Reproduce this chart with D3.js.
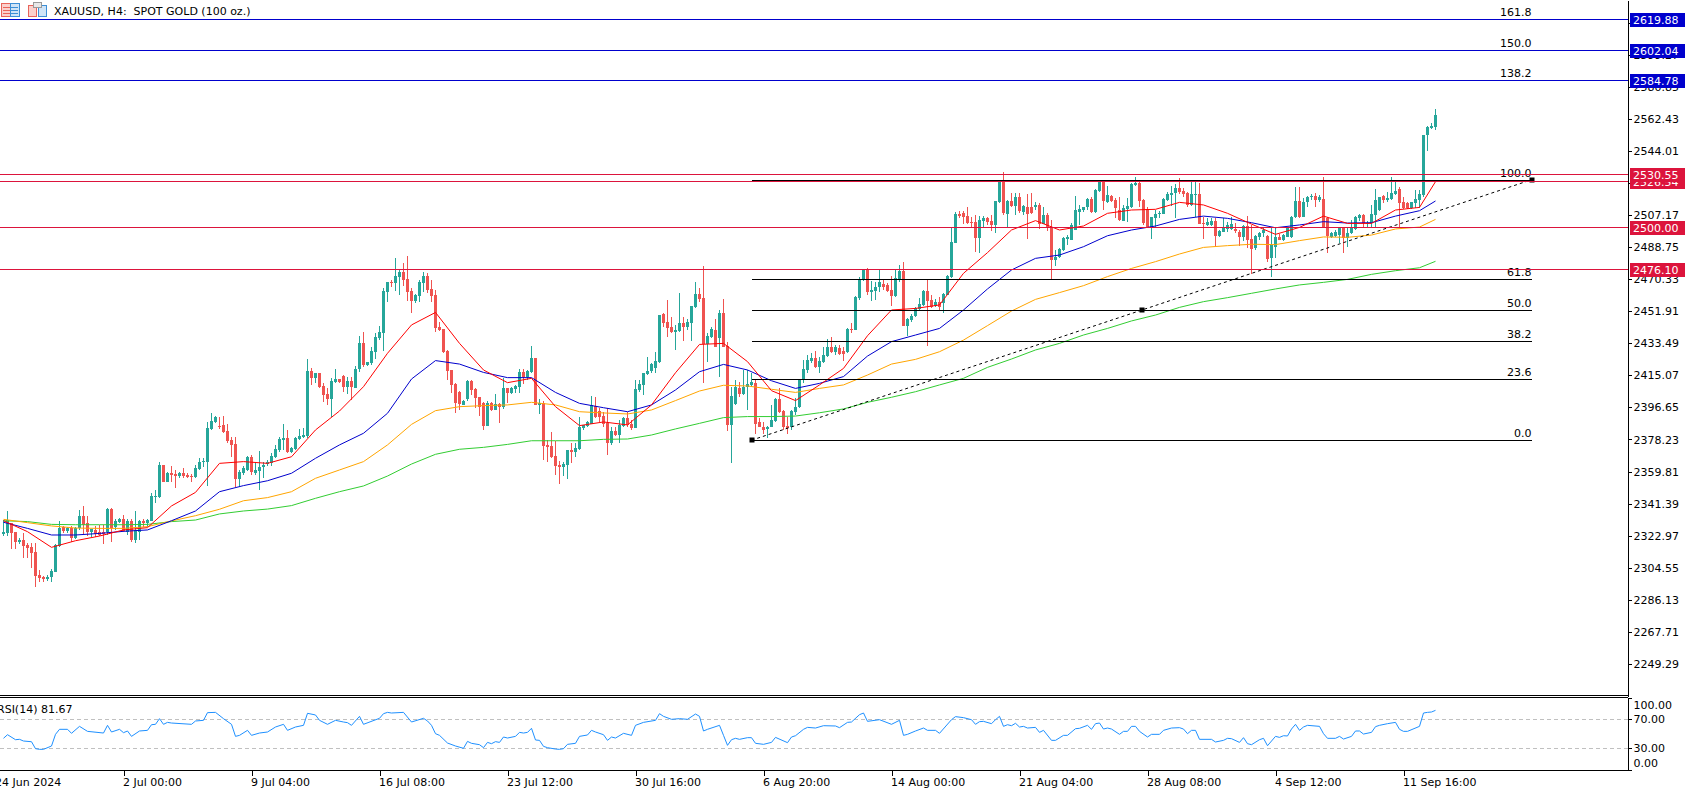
<!DOCTYPE html>
<html>
<head>
<meta charset="utf-8">
<style>
  html, body { margin: 0; padding: 0; background: #fff; overflow: hidden; }
  text { font-family: "DejaVu Sans", sans-serif; font-size: 11px; fill: #000; white-space: pre; }
</style>
</head>
<body>
<svg width="1685" height="791"></svg>
<script src="https://cdn.jsdelivr.net/npm/d3@7/dist/d3.min.js"></script>
<script>
// candles, bar 0 .. 358 (H4)
var opens = [2323.9,2324.6,2330.4,2325.0,2319.3,2320.4,2317.5,2316.6,2313.7,2300.3,2299.3,2298.0,2299.0,2302.2,2316.9,2327.7,2325.4,2327.5,2321.4,2327.1,
2334.4,2330.0,2325.0,2326.2,2325.0,2325.0,2325.2,2338.2,2327.7,2330.8,2332.5,2325.2,2331.4,2320.4,2325.2,2331.4,2330.0,2331.4,2345.3,2345.0,
2363.6,2353.9,2358.9,2358.4,2357.2,2358.9,2357.8,2357.2,2356.6,2361.4,2365.1,2365.5,2384.3,2388.5,2386.2,2386.6,2383.1,2377.9,2375.6,2355.5,
2358.8,2360.7,2368.0,2358.8,2360.3,2362.2,2364.1,2364.9,2368.2,2372.2,2377.9,2378.9,2371.2,2372.8,2378.3,2379.8,2380.2,2417.6,2413.6,2416.3,
2409.0,2404.4,2401.5,2411.5,2412.8,2414.9,2408.4,2411.7,2407.8,2418.8,2433.7,2421.2,2422.4,2428.7,2436.8,2439.7,2463.2,2468.8,2468.4,2471.9,
2474.5,2470.5,2463.6,2457.9,2460.9,2468.0,2472.2,2464.8,2461.3,2442.7,2441.6,2429.3,2418.2,2410.1,2405.7,2398.1,2401.5,2412.0,2407.2,2402.5,
2399.0,2386.0,2399.0,2395.2,2398.6,2397.1,2407.6,2404.8,2407.1,2408.6,2417.0,2414.0,2417.0,2425.1,2398.2,2399.0,2375.1,2374.5,2368.7,2363.6,
2362.4,2363.6,2372.4,2370.8,2372.8,2384.8,2386.2,2387.1,2397.7,2394.6,2391.7,2387.5,2376.4,2383.1,2380.6,2386.2,2390.6,2387.0,2385.0,2406.7,
2409.6,2415.9,2417.4,2419.3,2422.8,2450.4,2445.6,2442.7,2440.0,2440.4,2445.0,2442.7,2445.4,2454.2,2461.9,2459.6,2433.1,2437.4,2441.2,2436.4,
2450.8,2432.0,2386.7,2398.6,2408.0,2404.4,2408.6,2409.4,2410.9,2388.5,2385.6,2384.1,2385.6,2388.9,2401.5,2394.6,2386.0,2385.2,2393.8,2396.7,
2412.4,2418.2,2423.2,2425.1,2420.1,2423.0,2426.2,2431.6,2428.5,2430.6,2429.1,2428.7,2441.8,2441.2,2459.4,2470.0,2476.1,2463.2,2463.6,2465.7,
2467.4,2467.1,2464.0,2460.9,2470.3,2475.1,2443.7,2446.9,2449.2,2453.3,2455.6,2463.6,2458.4,2455.0,2457.5,2456.5,2461.3,2471.9,2491.4,2508.1,
2508.5,2506.9,2503.5,2503.5,2494.3,2504.1,2505.4,2504.1,2501.6,2515.0,2526.5,2507.9,2515.2,2512.5,2517.7,2509.2,2512.1,2512.1,2511.7,2513.1,
2502.1,2507.3,2500.0,2481.5,2483.0,2487.2,2493.3,2492.9,2498.7,2509.2,2510.2,2511.7,2516.4,2509.2,2520.9,2526.5,2515.0,2518.2,2516.0,2510.2,
2504.1,2510.6,2511.7,2524.4,2525.9,2516.0,2510.6,2500.2,2505.6,2507.7,2508.1,2516.0,2519.0,2519.8,2522.9,2520.9,2520.2,2513.1,2519.0,2519.2,
2502.9,2501.8,2501.6,2503.9,2495.2,2497.7,2499.3,2499.1,2499.1,2497.7,2494.5,2501.0,2493.3,2488.2,2494.9,2496.8,2495.4,2482.4,2489.1,2494.5,
2493.0,2494.5,2494.5,2506.4,2515.6,2506.4,2514.6,2517.5,2518.4,2516.0,2516.5,2505.4,2494.9,2495.2,2495.8,2499.6,2493.9,2496.8,2499.1,2505.4,
2507.1,2502.1,2502.5,2507.3,2510.2,2518.2,2516.0,2516.3,2519.2,2522.1,2515.0,2514.0,2511.2,2514.4,2516.0,2518.8,2553.3,2557.6,2558.1];
var highs = [2331.9,2337.1,2330.4,2325.0,2321.4,2324.2,2318.5,2318.5,2318.5,2303.2,2299.7,2300.1,2303.9,2318.1,2331.4,2328.5,2328.1,2328.5,2328.1,2337.7,
2340.0,2334.2,2326.7,2328.7,2329.0,2329.0,2338.6,2338.6,2332.3,2333.3,2334.8,2332.3,2332.3,2337.1,2331.9,2332.3,2332.5,2347.3,2349.2,2365.1,
2363.6,2359.7,2363.0,2360.7,2359.7,2361.6,2358.8,2358.2,2363.6,2367.4,2367.8,2388.5,2393.3,2391.9,2391.4,2391.7,2386.9,2379.5,2379.5,2360.7,
2363.0,2368.7,2369.3,2365.5,2371.8,2365.5,2366.4,2370.3,2375.1,2379.5,2386.9,2383.7,2374.1,2379.8,2384.1,2385.0,2424.3,2419.1,2416.3,2416.3,
2410.5,2407.6,2413.4,2418.6,2413.0,2415.3,2414.4,2414.4,2420.5,2437.7,2440.0,2423.0,2431.6,2439.7,2443.5,2465.1,2469.0,2469.9,2482.4,2475.7,
2479.5,2483.7,2465.1,2461.9,2469.9,2474.7,2474.2,2469.9,2464.2,2445.6,2441.6,2429.7,2418.2,2410.5,2406.3,2400.9,2412.4,2412.4,2407.6,2402.9,
2400.0,2400.4,2400.0,2404.4,2399.0,2413.4,2408.0,2408.6,2409.6,2418.8,2418.8,2418.2,2432.0,2425.1,2401.3,2400.6,2377.9,2382.7,2377.5,2366.0,
2365.5,2372.2,2376.0,2376.0,2391.0,2386.6,2389.0,2403.2,2402.5,2396.1,2394.2,2396.1,2385.6,2385.6,2389.4,2391.4,2394.2,2389.4,2412.4,2412.4,
2416.6,2425.5,2422.0,2428.7,2450.0,2450.8,2458.4,2448.9,2444.1,2462.3,2448.5,2447.3,2455.0,2469.0,2465.2,2478.0,2439.3,2442.7,2447.3,2452.7,
2459.0,2434.5,2408.6,2412.4,2411.5,2418.2,2418.2,2416.3,2412.4,2390.4,2388.5,2386.0,2398.1,2401.9,2407.6,2395.2,2391.4,2395.2,2401.9,2413.0,
2423.9,2426.8,2427.8,2429.1,2425.9,2431.6,2435.8,2437.4,2432.6,2432.6,2431.6,2442.5,2445.0,2460.9,2471.9,2476.1,2476.6,2469.4,2469.0,2475.7,
2470.3,2468.0,2472.2,2475.7,2478.6,2480.1,2447.9,2450.2,2454.6,2459.4,2464.2,2470.0,2461.3,2458.8,2460.4,2462.3,2472.8,2500.0,2509.2,2509.6,
2509.8,2512.1,2506.4,2507.3,2506.7,2506.9,2506.4,2507.3,2515.4,2527.1,2531.9,2516.0,2519.8,2520.2,2520.2,2513.1,2519.4,2520.2,2515.0,2514.0,
2511.7,2508.7,2504.5,2487.2,2488.2,2494.5,2495.8,2502.5,2518.2,2513.1,2512.1,2517.3,2517.5,2522.1,2526.5,2526.5,2524.0,2518.8,2517.3,2517.9,
2513.1,2516.9,2525.9,2529.0,2526.5,2516.5,2512.1,2506.4,2510.2,2509.6,2516.9,2520.7,2524.0,2525.0,2528.4,2523.0,2520.7,2526.1,2526.5,2525.5,
2506.4,2505.4,2505.4,2505.4,2498.7,2505.4,2503.5,2506.4,2502.5,2498.7,2501.6,2506.9,2501.6,2495.8,2497.7,2499.6,2495.8,2499.6,2500.2,2496.4,
2496.4,2500.6,2506.9,2523.2,2523.6,2517.3,2518.3,2519.2,2520.2,2518.8,2529.0,2506.4,2497.7,2498.7,2500.2,2500.0,2499.6,2504.5,2506.7,2507.9,
2507.7,2504.1,2513.1,2522.1,2517.9,2518.8,2520.4,2529.0,2526.5,2523.2,2517.9,2515.0,2515.0,2521.7,2521.7,2553.3,2558.7,2560.0,2568.3];
var lows = [2322.7,2322.7,2315.2,2315.2,2318.1,2310.1,2309.9,2304.1,2293.6,2296.5,2296.5,2297.0,2296.3,2302.2,2316.6,2324.2,2324.2,2319.1,2320.8,2326.2,
2323.9,2322.7,2322.3,2322.3,2322.7,2318.1,2323.3,2319.5,2326.2,2330.0,2325.2,2323.3,2319.5,2318.9,2320.4,2328.1,2328.1,2331.4,2341.9,2344.8,
2353.6,2353.6,2353.9,2350.5,2355.9,2355.9,2355.9,2353.9,2355.9,2360.7,2362.2,2351.7,2383.7,2387.5,2384.3,2381.8,2376.4,2368.0,2351.1,2351.1,
2357.8,2360.3,2357.8,2357.8,2349.2,2355.9,2363.0,2363.0,2367.4,2371.2,2372.2,2370.3,2370.3,2372.2,2377.9,2378.9,2378.9,2409.6,2410.9,2407.6,
2400.0,2398.1,2391.0,2410.9,2410.5,2405.5,2404.4,2400.9,2407.6,2417.2,2420.1,2420.5,2421.1,2424.3,2435.4,2429.3,2457.5,2466.1,2463.8,2461.3,
2466.5,2457.9,2451.2,2456.9,2457.5,2463.2,2462.3,2457.5,2440.2,2440.6,2427.8,2412.4,2404.8,2393.6,2395.2,2398.1,2400.6,2403.8,2396.5,2391.7,
2383.7,2386.0,2394.6,2395.2,2387.5,2395.8,2399.4,2404.4,2404.8,2404.8,2410.1,2412.4,2416.6,2398.2,2392.9,2366.4,2365.5,2367.4,2357.8,2352.6,
2357.2,2355.7,2364.5,2368.3,2372.2,2383.7,2385.6,2387.1,2390.4,2388.5,2385.6,2369.3,2375.0,2380.2,2376.4,2385.6,2385.6,2383.7,2384.6,2405.7,
2403.8,2415.3,2416.3,2416.3,2422.4,2443.1,2437.0,2439.3,2429.7,2440.2,2434.9,2441.2,2434.9,2453.6,2457.5,2410.9,2423.0,2436.4,2431.2,2414.0,
2431.6,2383.1,2364.5,2398.1,2402.9,2403.8,2395.2,2408.6,2381.4,2385.6,2381.4,2378.9,2385.6,2388.5,2393.6,2383.7,2381.2,2383.7,2392.3,2396.1,
2410.9,2416.3,2422.4,2419.1,2416.6,2422.0,2425.5,2428.1,2426.8,2426.8,2423.5,2428.1,2439.3,2441.2,2458.4,2469.6,2461.1,2458.1,2458.4,2463.2,
2464.2,2462.8,2455.0,2460.4,2469.0,2443.7,2437.7,2446.0,2448.9,2452.7,2455.0,2432.2,2453.6,2454.6,2452.7,2450.8,2461.3,2471.3,2491.4,2505.4,
2502.1,2502.1,2500.2,2486.2,2485.7,2499.6,2501.6,2498.3,2497.2,2514.4,2507.3,2500.6,2512.1,2507.3,2508.7,2507.3,2493.5,2507.9,2510.2,2499.3,
2502.1,2498.1,2470.3,2478.0,2482.4,2486.8,2490.1,2492.9,2498.7,2501.6,2509.2,2510.2,2508.7,2508.7,2520.6,2510.2,2514.0,2515.0,2505.4,2503.9,
2504.1,2503.5,2511.3,2524.0,2512.1,2501.6,2500.2,2493.7,2500.2,2505.4,2507.7,2515.6,2512.5,2505.4,2519.4,2517.9,2512.1,2512.5,2506.4,2502.1,
2493.7,2501.0,2501.0,2489.5,2494.5,2497.4,2497.4,2498.7,2496.8,2489.5,2492.6,2488.1,2473.4,2487.2,2493.0,2494.5,2480.5,2471.9,2482.4,2493.0,
2492.6,2494.5,2493.9,2505.4,2505.4,2506.0,2511.7,2516.0,2511.7,2515.0,2499.6,2485.3,2493.9,2494.9,2491.0,2485.7,2489.1,2496.4,2498.7,2504.1,
2500.2,2500.2,2500.2,2500.6,2509.8,2514.0,2515.0,2516.0,2518.8,2500.2,2510.6,2510.6,2510.6,2511.2,2511.2,2517.9,2544.3,2556.6,2556.2];
var closes = [2325.2,2331.9,2324.6,2319.4,2320.4,2316.9,2315.8,2313.1,2299.7,2298.4,2298.0,2299.3,2302.8,2317.5,2327.5,2325.6,2327.5,2321.4,2327.1,2334.4,
2329.0,2324.8,2326.7,2323.9,2323.3,2323.9,2338.2,2327.5,2331.5,2332.5,2325.8,2331.4,2320.2,2326.2,2331.4,2330.0,2331.9,2345.9,2345.7,2363.6,
2353.6,2359.1,2357.8,2357.4,2358.9,2357.4,2356.6,2356.6,2361.8,2365.3,2365.8,2384.6,2388.7,2391.2,2385.6,2382.7,2377.5,2375.0,2355.5,2359.7,
2362.0,2368.0,2359.7,2360.7,2362.6,2363.7,2365.3,2368.7,2372.8,2378.3,2379.1,2371.2,2373.1,2379.1,2380.2,2380.8,2417.6,2413.6,2416.3,2408.6,
2403.8,2401.5,2411.7,2413.0,2411.1,2408.6,2412.0,2408.2,2418.8,2433.7,2421.2,2422.8,2429.1,2437.2,2440.0,2463.8,2468.8,2468.4,2472.2,2474.5,
2469.9,2463.2,2458.1,2461.3,2468.6,2472.2,2464.2,2460.9,2442.5,2441.2,2428.7,2417.8,2409.6,2399.4,2398.6,2400.6,2412.0,2406.7,2402.3,2397.1,
2386.0,2399.4,2395.2,2398.4,2397.1,2407.6,2404.8,2408.0,2409.0,2417.0,2414.0,2417.8,2425.1,2398.2,2399.4,2374.7,2373.7,2368.0,2363.0,2362.4,
2364.1,2372.2,2371.2,2373.3,2385.6,2386.6,2388.5,2398.1,2391.4,2391.4,2386.9,2376.4,2383.1,2380.8,2386.6,2390.4,2386.6,2385.0,2407.3,2410.1,
2416.3,2417.4,2421.6,2423.4,2450.0,2445.0,2442.1,2440.0,2441.2,2445.0,2443.1,2446.0,2455.0,2461.9,2458.8,2433.1,2437.7,2442.0,2431.6,2450.8,
2431.6,2386.7,2403.2,2408.2,2404.4,2408.6,2410.1,2411.5,2387.1,2385.6,2383.7,2385.6,2389.4,2401.5,2394.2,2385.6,2384.6,2394.6,2397.1,2413.0,
2418.8,2423.9,2425.1,2420.1,2423.4,2426.6,2431.6,2428.7,2431.2,2427.4,2427.4,2441.8,2441.0,2460.4,2470.3,2476.1,2463.2,2464.2,2465.7,2469.0,
2466.1,2463.6,2460.9,2470.9,2475.3,2443.7,2447.5,2449.4,2453.6,2456.1,2463.6,2458.1,2454.6,2457.5,2454.6,2461.9,2472.2,2491.6,2507.9,2506.9,
2506.0,2502.5,2502.9,2494.3,2504.5,2505.8,2503.5,2501.6,2515.4,2526.5,2508.3,2515.4,2512.7,2517.7,2509.6,2512.5,2508.1,2508.3,2513.1,2502.1,
2507.3,2499.6,2481.5,2483.4,2487.8,2493.9,2494.5,2501.6,2510.2,2510.6,2512.1,2516.4,2509.2,2521.7,2526.5,2515.4,2518.8,2515.4,2511.5,2504.3,
2511.3,2512.5,2525.1,2525.9,2515.4,2502.5,2500.2,2506.0,2507.9,2508.7,2516.4,2519.2,2520.2,2522.9,2520.6,2519.2,2513.1,2519.2,2519.4,2502.1,
2502.1,2503.5,2503.9,2495.2,2498.1,2499.8,2501.6,2502.1,2498.1,2494.5,2501.0,2492.9,2487.8,2495.2,2497.2,2498.7,2482.0,2490.1,2494.5,2493.0,
2495.8,2500.0,2506.4,2515.6,2506.4,2515.0,2517.9,2518.4,2516.0,2517.9,2500.2,2495.4,2497.2,2497.7,2499.6,2493.9,2497.2,2499.6,2506.4,2507.1,
2502.5,2502.9,2507.9,2516.0,2517.9,2516.0,2516.9,2519.8,2521.3,2514.4,2511.2,2511.2,2515.0,2516.3,2519.4,2553.3,2557.7,2558.5,2564.8];

// moving averages, read every 6 bars plus the last bar
var maBars = [0,6,12,18,24,30,36,42,48,54,60,66,72,78,84,90,96,102,108,114,120,126,132,138,144,150,156,162,168,174,180,186,192,198,
204,210,216,222,228,234,240,246,252,258,264,270,276,282,288,294,300,306,312,318,324,330,336,342,348,354,358];
var maRed = [2331.5,2325.2,2316.2,2320.0,2322.7,2326.2,2327.5,2340.0,2347.8,2364.5,2365.5,2364.5,2368.3,2383.7,2394.6,2408.6,2427.8,2444.1,2451.3,2433.5,
2418.2,2410.9,2413.4,2397.1,2386.2,2388.3,2386.6,2398.1,2416.6,2432.9,2433.5,2423.0,2406.3,2400.6,
2409.6,2419.1,2437.9,2452.7,2453.6,2455.6,2473.8,2485.7,2498.7,2504.1,2498.7,2501.0,2508.3,2510.2,2510.6,2514.6,2513.1,2508.3,2502.1,2496.2,2500.2,2506.7,2502.5,2502.5,2510.2,2511.7,2526.5];
var maBlue = [2330.6,2327.1,2323.3,2323.3,2324.2,2325.4,2326.2,2331.5,2337.1,2348.2,2351.7,2354.5,2358.8,2367.4,2375.1,2381.8,2393.3,2413.0,2423.6,2421.6,
2416.8,2413.8,2413.8,2405.3,2399.0,2396.5,2394.2,2398.1,2406.7,2417.2,2421.4,2418.2,2412.0,2407.6,
2410.5,2414.4,2426.2,2434.5,2438.3,2442.1,2452.7,2464.8,2475.7,2482.4,2484.3,2489.1,2495.4,2498.7,2501.0,2504.8,2506.7,2505.4,2502.9,2500.0,2501.6,2503.5,2502.7,2502.9,2506.7,2509.8,2515.4];
var maOrange = [2332.3,2330.4,2328.5,2327.3,2327.1,2327.1,2328.1,2331.4,2334.4,2338.1,2343.0,2344.8,2348.2,2355.9,2360.7,2365.5,2375.1,2386.9,2394.8,2397.1,
2397.7,2398.1,2399.6,2398.1,2394.2,2393.5,2392.9,2395.2,2400.6,2406.1,2409.4,2409.0,2407.1,2405.3,
2407.6,2409.6,2415.3,2421.6,2424.3,2428.7,2435.4,2443.7,2452.1,2458.8,2462.7,2466.7,2471.9,2476.6,2480.5,2484.9,2488.7,2489.7,2490.5,2490.3,2492.6,2494.7,2494.5,2495.8,2499.3,2500.4,2504.8];
var maGreen = [2331.5,2331.0,2329.4,2329.2,2329.2,2329.2,2329.4,2331.0,2331.9,2335.4,2337.1,2338.2,2340.2,2344.4,2348.2,2351.5,2357.2,2364.1,2369.7,2372.6,
2373.7,2375.4,2377.5,2377.5,2377.5,2378.3,2378.5,2380.8,2384.3,2387.5,2390.8,2391.4,2391.4,2391.7,
2393.6,2395.8,2399.6,2402.5,2405.7,2409.6,2413.4,2419.7,2424.5,2429.7,2433.5,2438.3,2442.1,2446.4,2449.8,2454.2,2457.5,2459.8,2462.3,2464.8,2467.1,2468.6,2470.3,2473.2,2475.3,2477.0,2480.7];

// RSI(14) turning points
var rsiBars = [0,1,3,4,5,7,8,9,10,12,13,14,16,17,19,21,25,26,27,29,30,31,32,34,36,37,38,39,40,41,42,47,48,50,51,53,55,57,58,59,61,62,64,66,68,70,71,73,75,76,78,79,81,83,85,86,87,89,90,94,95,96,97,100,102,105,106,107,108,109,111,113,115,116,117,119,120,121,122,123,124,125,126,128,129,130,131,132,133,134,135,136,138,139,140,141,143,144,146,147,148,150,151,152,153,155,157,158,160,163,164,165,167,169,171,173,174,175,176,179,180,181,182,183,184,186,187,188,190,192,193,196,197,198,200,201,203,205,208,209,211,212,214,215,216,219,222,224,225,226,228,230,231,233,234,237,238,240,242,243,244,245,247,248,249,250,251,252,253,254,255,256,258,259,260,262,263,265,266,268,269,271,272,273,274,275,276,277,279,280,281,282,283,284,286,287,289,290,292,294,295,296,297,298,299,302,303,305,306,307,309,310,311,312,314,315,316,318,319,320,321,322,323,324,325,326,329,330,331,333,334,335,337,338,339,340,342,343,344,346,348,349,350,351,354,355,356,357,358];
var rsiValues = [43.7,48.7,41.8,42.3,40,39,29.4,28.5,28.5,33.1,49.2,56.1,56.1,50.6,60.2,53.3,51,61.6,52.4,56.1,51.5,53.8,46.4,53.8,54.7,62.5,63,70.8,63,65.7,64.8,63,67.6,68.5,79.1,79.5,70.8,63,46.4,47.8,54.7,47.8,51,52.4,59.3,63,54.7,59.3,61.6,78.2,75.9,68.5,63,68.5,66.2,65.3,61.6,74,63,71.3,77.7,79.5,78.6,79.5,66.2,71.3,67.6,61.6,50.1,47.8,37.2,33.1,29.9,39.5,36.8,34.9,30.8,38.1,36.3,39.1,38.1,45.5,44.1,46.4,51.9,51,51.9,57.5,41.4,40.9,32.6,30.8,28.9,28.5,29.4,35.4,36.8,46.4,48.3,54.7,52.4,48.7,40.9,45.5,44.1,50.6,47.8,61.6,65.7,68.5,77.7,74,69.9,70.8,69.9,77.2,74,53.8,56.1,61.6,47.8,34,41.8,43.7,42.3,44.6,44.6,36.8,35.4,38.1,45,37.7,45.5,47.3,56.1,58.8,57.9,61.1,60.7,58.4,65.7,66.2,76.3,78.6,67.1,69.4,63,68.5,47.8,49.2,53.8,57.9,54.7,54.7,50.6,69.4,73.6,72.2,69.4,63,66.7,67.1,63.9,69.4,74,60.2,62.5,61.1,64.4,59.3,60.2,57.9,58.8,51.9,54.7,40.9,40.9,47.8,47.8,57,57.5,61.6,56.1,63.9,64.8,56.5,57.9,56.5,49.2,53.3,53.3,60.2,60.2,53.3,45.5,49.2,49.2,54.7,57.9,58.4,56.5,50.1,54.7,54.7,42.3,42.3,38.6,40.9,43.7,43.2,38.1,44.6,36.3,34.9,41.8,43.7,33.5,46.4,45,47.3,46.9,56.5,63,54.7,59.3,61.6,60.2,50.1,43.7,43.7,46.4,42.7,46.4,53.8,53.8,49.6,51.9,59.8,61.6,63.9,65.7,56.1,53.3,53.3,60.2,78.6,79.5,80,82.3];

// axes
var priceDomain = [2630.98, 2230.7];
var priceTicks = [2617.69,2599.27,2580.85,2562.43,2544.01,2525.59,2507.17,2488.75,2470.33,2451.91,2433.49,2415.07,2396.65,2378.23,2359.81,2341.39,2322.97,2304.55,2286.13,2267.71,2249.29];
var rsiTicks = [100, 70, 30, 0];
var timeBars = [-2,30,62,94,126,158,190,222,254,286,318,350];
var timeLabels = ["24 Jun 2024","2 Jul 00:00","9 Jul 04:00","16 Jul 08:00","23 Jul 12:00","30 Jul 16:00","6 Aug 20:00","14 Aug 00:00","21 Aug 04:00","28 Aug 08:00","4 Sep 12:00","11 Sep 16:00"];

// levels
var blueLevels = [2619.88, 2602.04, 2584.78];
var redLevels = [2526.54, 2476.10, 2500.00, 2530.55];
var fibPrices = [2377.8, 2412.8, 2434.7, 2452.6, 2470.4, 2527.4];
var fibNames = ["0.0", "23.6", "38.2", "50.0", "61.8", "100.0"];
var upperFibPrices = [2584.78, 2602.04, 2619.88];
var upperFibNames = ["138.2", "150.0", "161.8"];
var fibBars = [187, 382];
var trendBars = [187, 284.5, 382];
var trendPrices = [2377.8, 2452.6, 2527.6];

function main() {
    var svg = d3.select("svg");
    var axisX = 1627.5;
    var candleUp = "#26a69a", candleDown = "#ef5350";

    var x = d3.scaleLinear().domain([0, 100]).range([3.5, 403.5]);
    var y = d3.scaleLinear().domain(priceDomain).range([0, 696]);
    var yRsi = d3.scaleLinear().domain([0, 100]).range([770, 697.5]);

    // snap so 1px lines stay sharp like the terminal draws them
    function snap(v) { return Math.floor(v) + 0.5; }

    var bars = d3.range(opens.length);

    // candles
    var candles = svg.append("g").attr("shape-rendering", "crispEdges");
    candles.selectAll("line").data(bars).enter().append("line")
        .attr("x1", function(i) { return x(i); })
        .attr("x2", function(i) { return x(i); })
        .attr("y1", function(i) { return y(highs[i]); })
        .attr("y2", function(i) { return y(lows[i]); })
        .attr("stroke", function(i) { return closes[i] >= opens[i] ? candleUp : candleDown; });
    candles.selectAll("rect").data(bars).enter().append("rect")
        .attr("x", function(i) { return x(i) - 1.5; })
        .attr("width", 3)
        .attr("y", function(i) { return y(Math.max(opens[i], closes[i])); })
        .attr("height", function(i) { return Math.max(1, Math.abs(y(opens[i]) - y(closes[i]))); })
        .attr("fill", function(i) { return closes[i] >= opens[i] ? candleUp : candleDown; });

    // moving averages
    var maLine = d3.line().x(function(d) { return x(d[0]); }).y(function(d) { return y(d[1]); });
    var maSeries = [[maGreen, "#32cd32"], [maOrange, "#ffa500"], [maBlue, "#0000cd"], [maRed, "#ff0000"]];
    maSeries.forEach(function(s) {
        svg.append("path")
            .datum(d3.zip(maBars, s[0]))
            .attr("d", maLine)
            .attr("fill", "none")
            .attr("stroke", s[1])
            .attr("stroke-width", 1);
    });

    // trend line with its anchors
    var trend = d3.zip(trendBars, trendPrices);
    svg.append("path").datum(trend)
        .attr("d", maLine)
        .attr("fill", "none")
        .attr("stroke", "#000")
        .attr("stroke-dasharray", "3,3");
    svg.selectAll(".anchor").data(trend).enter().append("rect")
        .attr("class", "anchor")
        .attr("x", function(d) { return Math.round(x(d[0])) - 2.5; })
        .attr("y", function(d) { return Math.round(y(d[1])) - 2.5; })
        .attr("width", 5).attr("height", 5)
        .attr("fill", "#000");

    // fibonacci lines
    var fibs = svg.append("g");
    fibs.selectAll("line").data(fibPrices).enter().append("line")
        .attr("x1", x(fibBars[0])).attr("x2", x(fibBars[1]))
        .attr("y1", function(d) { return snap(y(d)); })
        .attr("y2", function(d) { return snap(y(d)); })
        .attr("stroke", "#000")
        .attr("shape-rendering", "crispEdges");
    fibs.selectAll("text.low").data(fibPrices).enter().append("text")
        .attr("class", "low")
        .attr("x", x(fibBars[1])).attr("y", function(d) { return y(d) - 3; })
        .attr("text-anchor", "end")
        .text(function(d, i) { return fibNames[i]; });
    fibs.selectAll("text.up").data(upperFibPrices).enter().append("text")
        .attr("class", "up")
        .attr("x", x(fibBars[1])).attr("y", function(d) { return y(d) - 3; })
        .attr("text-anchor", "end")
        .text(function(d, i) { return upperFibNames[i]; });

    // horizontal levels
    function levels(list, color) {
        svg.append("g").selectAll("line").data(list).enter().append("line")
            .attr("x1", 0).attr("x2", axisX)
            .attr("y1", function(d) { return snap(y(d)); })
            .attr("y2", function(d) { return snap(y(d)); })
            .attr("stroke", color)
            .attr("shape-rendering", "crispEdges");
    }
    levels(redLevels, "#dc143c");
    levels(blueLevels, "#0000cd");

    // RSI pane
    svg.append("g").selectAll("line").data([70, 30]).enter().append("line")
        .attr("x1", 0).attr("x2", axisX)
        .attr("y1", function(d) { return snap(yRsi(d)); })
        .attr("y2", function(d) { return snap(yRsi(d)); })
        .attr("stroke", "#c0c0c0")
        .attr("stroke-dasharray", "4,3")
        .attr("shape-rendering", "crispEdges");
    svg.append("path")
        .datum(d3.zip(rsiBars, rsiValues))
        .attr("d", d3.line().x(function(d) { return x(d[0]); }).y(function(d) { return yRsi(d[1]); }))
        .attr("fill", "none")
        .attr("stroke", "#1e90ff");
    svg.append("text").attr("x", -3).attr("y", 713).text("RSI(14) 81.67");

    // pane borders
    svg.append("g").selectAll("line").data([695.5, 697.5]).enter().append("line")
        .attr("x1", 0).attr("x2", axisX)
        .attr("y1", function(d) { return d; }).attr("y2", function(d) { return d; })
        .attr("stroke", "#000")
        .attr("shape-rendering", "crispEdges");

    // price axis
    var priceAxis = svg.append("g")
        .attr("transform", "translate(" + axisX + ",0)")
        .call(d3.axisRight(y).tickValues(priceTicks).tickFormat(d3.format(".2f")).tickSize(4).tickSizeOuter(0).tickPadding(2));
    priceAxis.selectAll("text").style("font-family", null).style("font-size", null);
    priceAxis.attr("font-family", null).attr("font-size", null).attr("shape-rendering", "crispEdges");

    // RSI axis, the end labels sit inside the pane
    var rsiAxis = svg.append("g")
        .attr("transform", "translate(" + axisX + ",0)")
        .call(d3.axisRight(yRsi).tickValues(rsiTicks).tickFormat(d3.format(".2f")).tickSize(4).tickSizeOuter(0).tickPadding(2));
    rsiAxis.attr("font-family", null).attr("font-size", null).attr("shape-rendering", "crispEdges");
    rsiAxis.selectAll("text").attr("dy", function(d) {
        if (d === 100) return "1.0em";
        if (d === 0) return "-0.32em";
        return "0.32em";
    });

    // time axis
    var timeAxis = svg.append("g")
        .attr("transform", "translate(0,770.5)")
        .call(d3.axisBottom(x).tickValues(timeBars)
            .tickFormat(function(d, i) { return timeLabels[i]; })
            .tickSize(5).tickSizeOuter(0).tickPadding(3));
    timeAxis.attr("font-family", null).attr("font-size", null).attr("shape-rendering", "crispEdges");
    timeAxis.select(".domain").attr("d", "M0,0H" + axisX);
    timeAxis.selectAll("text").attr("text-anchor", "start").attr("dx", -1);

    // level tags on the price axis, on top of the tick labels
    function tags(list, color) {
        var g = svg.append("g").selectAll("g").data(list).enter().append("g")
            .attr("transform", function(d) { return "translate(1630," + snap(y(d)) + ")"; });
        g.append("rect").attr("x", 0).attr("y", -7).attr("width", 55).attr("height", 14)
            .attr("fill", color).attr("shape-rendering", "crispEdges");
        g.append("text").attr("x", 3).attr("y", 4)
            .style("fill", "#fff")
            .text(function(d) { return d3.format(".2f")(d); });
    }
    tags(redLevels, "#dc143c");
    tags(blueLevels, "#0000cd");

    // title and the two toolbar icons
    svg.append("text").attr("x", 54).attr("y", 15).text("XAUUSD, H4:  SPOT GOLD (100 oz.)");
    var icons = svg.append("g").attr("shape-rendering", "crispEdges");
    icons.append("rect").attr("x", 1.5).attr("y", 3.5).attr("width", 9).attr("height", 13).attr("fill", "#fbd0cc").attr("stroke", "#e8645a");
    icons.append("rect").attr("x", 10.5).attr("y", 3.5).attr("width", 9).attr("height", 13).attr("fill", "#cfe4f7").attr("stroke", "#3d8fd6");
    [7.5, 10.5, 13.5].forEach(function(v) {
        icons.append("line").attr("x1", 3).attr("x2", 10).attr("y1", v).attr("y2", v).attr("stroke", "#e8645a");
        icons.append("line").attr("x1", 11).attr("x2", 18).attr("y1", v).attr("y2", v).attr("stroke", "#3d8fd6");
    });
    icons.append("rect").attr("x", 28.5).attr("y", 5.5).attr("width", 8).attr("height", 11).attr("fill", "#fbd0cc").attr("stroke", "#e8645a");
    icons.append("rect").attr("x", 38.5).attr("y", 5.5).attr("width", 8).attr("height", 11).attr("fill", "#cfe4f7").attr("stroke", "#3d8fd6");
    icons.append("rect").attr("x", 33.5).attr("y", 2.5).attr("width", 8).attr("height", 5).attr("fill", "#e8e8e8").attr("stroke", "#999");
}
main();
</script>
</body>
</html>
